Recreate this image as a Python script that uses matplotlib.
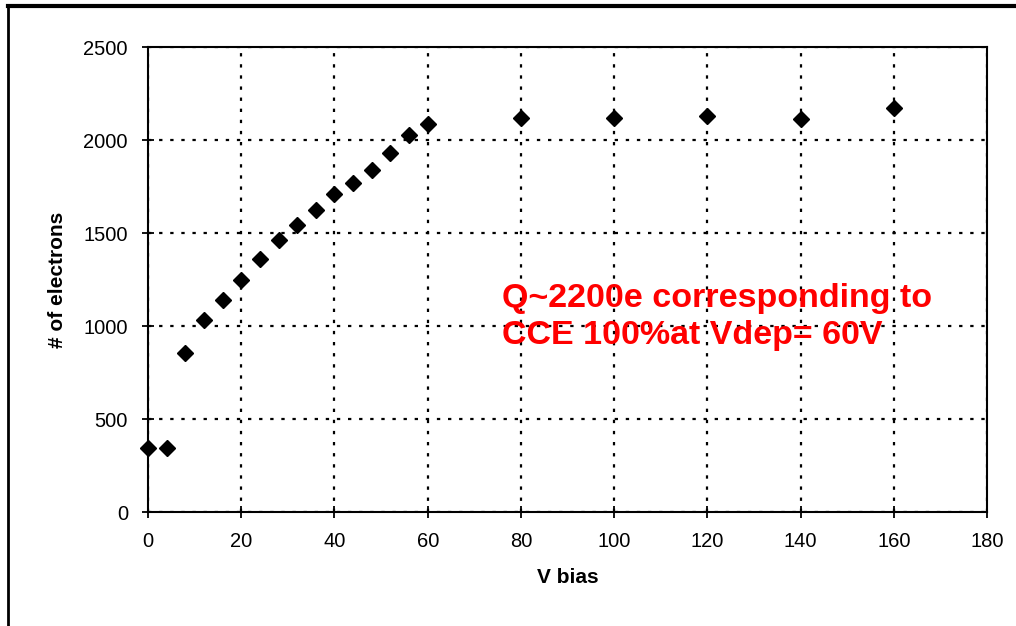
import matplotlib
matplotlib.use('Agg')
import matplotlib.pyplot as plt
from matplotlib.lines import Line2D

plt.rcParams['font.family'] = ['Liberation Sans', 'DejaVu Sans']

# bias voltage (V) and collected charge (# of electrons)
v_bias = [0, 4, 8, 12, 16, 20, 24, 28, 32, 36, 40, 44, 48, 52, 56, 60,
          80, 100, 120, 140, 160]
electrons = [345, 345, 855, 1030, 1140, 1250, 1360, 1460, 1545, 1625, 1710,
             1770, 1840, 1930, 2025, 2085, 2120, 2120, 2130, 2115, 2170]

x_ticks = [0, 20, 40, 60, 80, 100, 120, 140, 160, 180]
y_ticks = [0, 500, 1000, 1500, 2000, 2500]

fig = plt.figure(figsize=(10.16, 6.26), dpi=100)
ax = fig.add_axes([0.1457, 0.1821, 0.8258, 0.7428])

ax.plot(v_bias, electrons, linestyle='none', marker='D', markersize=8,
        color='black', zorder=3, clip_on=False)

ax.set_xlim(0, 180)
ax.set_ylim(0, 2500)
ax.set_xticks(x_ticks)
ax.set_yticks(y_ticks)
ax.grid(True, linestyle=(0, (1.5, 3.5)), color='black', linewidth=1.6)
for s in ax.spines.values():
    s.set_linewidth(1.5)
ax.tick_params(direction='inout', length=9, width=1.3, labelsize=14.5, pad=10)

ax.set_xlabel('V bias', fontsize=15, fontweight='bold', labelpad=12)
ax.set_ylabel('# of electrons', fontsize=15, fontweight='bold', labelpad=12)

# annotation
ax.text(76, 1230, 'Q~2200e corresponding to\nCCE 100%at Vdep= 60V',
        color='red', fontsize=24.5, fontweight='bold', va='top', ha='left',
        linespacing=1.25)

# frame around the figure (top and left)
fig.add_artist(Line2D([0.0079, 1.0], [0.9904, 0.9904], color='black', linewidth=3,
                      transform=fig.transFigure))
fig.add_artist(Line2D([0.0079, 0.0079], [0.0, 0.9904], color='black', linewidth=2,
                      transform=fig.transFigure))

fig.savefig('out.png', dpi=100)
